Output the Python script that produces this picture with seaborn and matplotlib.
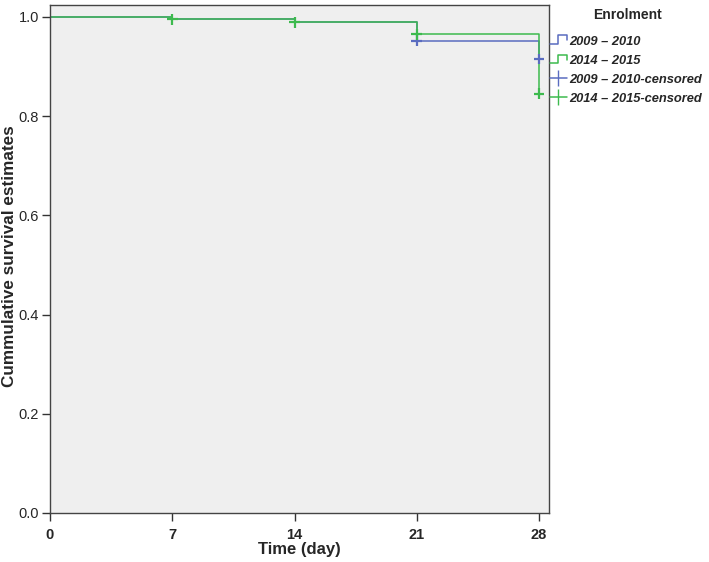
import pandas as pd
import matplotlib
matplotlib.use("Agg")
import matplotlib.pyplot as plt
from matplotlib.lines import Line2D
from matplotlib.legend_handler import HandlerBase
import seaborn as sns

# Kaplan-Meier step values per enrolment period
days = [0, 7, 14, 21, 28]
surv_0910 = [1.0, 0.996, 0.989, 0.952, 0.915]
surv_1415 = [1.0, 0.995, 0.989, 0.965, 0.845]

# censored observations (day, survival)
cens_0910_day = [21, 28]
cens_0910_val = [0.952, 0.915]
cens_1415_day = [7, 14, 21, 28]
cens_1415_val = [0.995, 0.989, 0.965, 0.845]

yticks = [0, 0.2, 0.4, 0.6, 0.8, 1.0]
groups = ["2009 \u2013 2010", "2014 \u2013 2015"]
blue = "#5a6cc0"
green = "#3dba4e"
palette = {groups[0]: blue, groups[1]: green}


class StepHandler(HandlerBase):
    """Little step icon used by SPSS survival legends."""
    def create_artists(self, legend, orig_handle, xdescent, ydescent,
                       width, height, fontsize, trans):
        x0, y0 = -xdescent, -ydescent
        xs = [x0, x0 + width * 0.45, x0 + width * 0.45, x0 + width, x0 + width]
        ys = [y0 + height * 0.05, y0 + height * 0.05, y0 + height * 1.0,
              y0 + height * 1.0, y0 + height * 0.45]
        line = Line2D(xs, ys, color=orig_handle.get_color(), lw=1.1,
                      transform=trans)
        return [line]


def build_frames():
    rows = []
    for g, vals in zip(groups, [surv_0910, surv_1415]):
        for d, v in zip(days, vals):
            rows.append({"day": d, "surv": v, "group": g})
    steps = pd.DataFrame(rows)
    crows = []
    for g, ds_, vs in [(groups[0], cens_0910_day, cens_0910_val),
                       (groups[1], cens_1415_day, cens_1415_val)]:
        for d, v in zip(ds_, vs):
            crows.append({"day": d, "surv": v, "group": g})
    return steps, pd.DataFrame(crows)


def main():
    sns.set_style("ticks")
    plt.rcParams["font.family"] = ["Liberation Sans", "DejaVu Sans"]

    steps, cens = build_frames()

    fig = plt.figure(figsize=(7.09, 5.62), dpi=100)
    ax = fig.add_axes([50 / 709, 1 - 513 / 562, 499 / 709, 508 / 562])
    ax.set_facecolor("#efefef")

    sns.lineplot(data=steps, x="day", y="surv", hue="group", palette=palette,
                 drawstyle="steps-post", lw=1.1, legend=False, ax=ax,
                 estimator=None)
    sns.scatterplot(data=cens, x="day", y="surv", hue="group", palette=palette,
                    marker="+", s=60, linewidth=1.6, legend=False, ax=ax,
                    zorder=5)

    ax.set_xlim(0, 28.57)
    ax.set_ylim(0, 1.024)
    ax.set_xticks(days)
    ax.set_yticks(yticks)
    ax.set_yticklabels([f"{t:.1f}" for t in yticks], fontsize=10.5)
    ax.set_xticklabels([str(d) for d in days], fontsize=10.5, fontweight="bold")
    ax.tick_params(axis="y", direction="out", length=6, width=1,
                   color="#333333", pad=2)
    ax.tick_params(axis="x", direction="out", length=6, width=1,
                   color="#333333", pad=5)
    for s in ax.spines.values():
        s.set_color("#444444")
        s.set_linewidth(1)

    ax.set_xlabel("Time (day)", fontsize=12, fontweight="bold")
    ax.set_ylabel("Cummulative survival estimates", fontsize=12.3, fontweight="bold")
    ax.xaxis.set_label_coords(0.5, -0.058)
    ax.yaxis.set_label_coords(-0.067, 0.506)

    handles = [
        Line2D([], [], color=blue),
        Line2D([], [], color=green),
        Line2D([], [], color=blue, marker="|", markersize=12, lw=1.1),
        Line2D([], [], color=green, marker="|", markersize=12, lw=1.1),
    ]
    labels = [groups[0], groups[1], groups[0] + "-censored", groups[1] + "-censored"]
    ax.legend(handles, labels, loc="upper left", bbox_to_anchor=(1.002, 0.94),
              frameon=False, handlelength=1.3,
              handletextpad=0.2, labelspacing=0.55, borderaxespad=0.0,
              borderpad=0.0,
              prop={"weight": "bold", "style": "italic", "size": 9.3},
              handler_map={handles[0]: StepHandler(), handles[1]: StepHandler()})
    fig.text(628 / 709, 1 - 15 / 562, "Enrolment", ha="center", va="center",
             fontsize=10, fontweight="bold")

    plt.savefig("out.png", dpi=100, facecolor="white")
    plt.close(fig)


if __name__ == "__main__":
    main()
